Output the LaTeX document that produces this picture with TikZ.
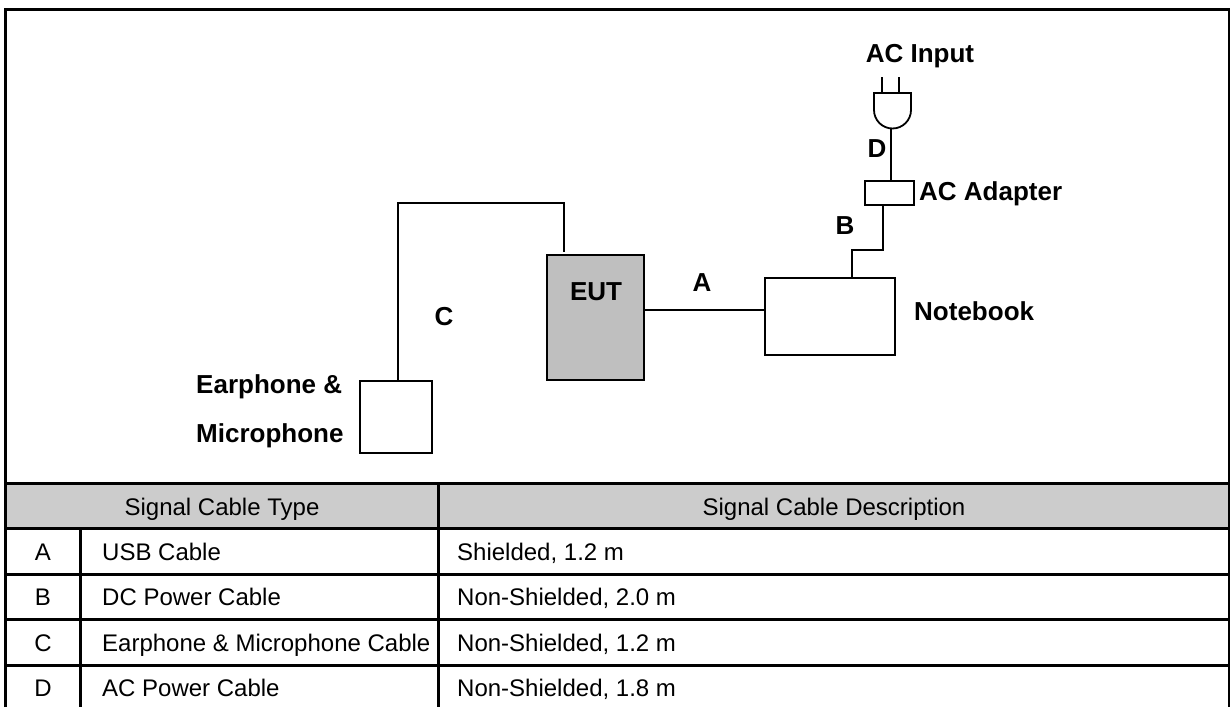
\documentclass[tikz,border=0pt]{standalone}
\usepackage{fontspec}
\setmainfont{Liberation Sans}
\usepackage{tikz}
\usetikzlibrary{positioning,calc}
\definecolor{eutgray}{rgb}{0.75,0.75,0.75}
\definecolor{headgray}{rgb}{0.8,0.8,0.8}
\tikzstyle{unit}=[%
      rectangle, draw=black, line width=1.8pt, fill=white, inner sep=0pt, outer sep=0pt
]
\tikzstyle{eut}=[%
      unit, fill=eutgray, minimum width=97pt, minimum height=125pt
]
\tikzstyle{wire}=[%
      draw=black, line width=1.8pt
]
\tikzstyle{lbl}=[%
      inner sep=0pt, anchor=base, font=\fontsize{26}{30}\selectfont\bfseries
]
\tikzstyle{cell}=[%
      inner sep=0pt, anchor=base, font=\fontsize{24}{28}\selectfont
]
\tikzstyle{rule}=[%
      draw=black, line width=3pt
]
\begin{document}
\begin{tikzpicture}[x=1pt, y=-1pt]
    \useasboundingbox (0,0) rectangle (1230,707);
    \fill[white] (0,0) rectangle (1230,707);
    \fill[headgray] (6,483) rectangle (1229,528);

    \node[eut] (eutbox) at (595.5,317.5) {};
    \node[lbl] (eutlabel) at (596,300) {EUT};
    \node[unit, minimum width=130pt, minimum height=77pt] (notebook) at (830,316.5) {};
    \node[unit, minimum width=72pt, minimum height=72pt] (earphone) at (396,417) {};
    \node[unit, minimum width=49pt, minimum height=24pt] (adapter) at (889.5,193) {};

    % plug
    \coordinate (plugtail) at (891,129);
    \coordinate (eutjack) at (564,252);
    \draw[wire] (874,93) -- (911,93) -- (911,110) arc[start angle=0, end angle=180, radius=18.5] -- cycle;
    \draw[wire] (882,77) -- (882,93);
    \draw[wire] (899,77) -- (899,93);

    % cables
    \draw[wire] (eutbox.east |- 0,310) -- (notebook.west |- 0,310);
    \draw[wire] (852,278) -- (852,250) -- (883,250) -- (883,205);
    \draw[wire] (plugtail) -- (plugtail |- adapter.north);
    \draw[wire] (398,381) -- (398,203) -- (eutjack |- 0,203) -- (eutjack);

    \node[lbl] (acinput) at (920,62) {AC Input};
    \node[lbl] (cabled) at (877,157) {D};
    \node[lbl, anchor=base west] (aclabel) at (919,200) {AC Adapter};
    \node[lbl] (cableb) at (845,234) {B};
    \node[lbl] (cablea) at (702,291) {A};
    \node[lbl, anchor=base west] (nblabel) at (914,320) {Notebook};
    \node[lbl] (cablec) at (444,325) {C};
    \node[lbl, anchor=base west] (earlabel) at (196,393) {Earphone \&};
    \node[lbl, anchor=base west] (miclabel) at (196,442) {Microphone};

    % table
    \node[cell] (headtype) at (222,515) {Signal Cable Type};
    \node[cell] (headdesc) at (834,515) {Signal Cable Description};
    \foreach \y/\k/\t/\d in {560/A/USB Cable/{Shielded, 1.2 m},
                             605/B/DC Power Cable/{Non-Shielded, 2.0 m},
                             651/C/Earphone \& Microphone Cable/{Non-Shielded, 1.2 m},
                             696/D/AC Power Cable/{Non-Shielded, 1.8 m}} {
      \node[cell] (key\k) at (43,\y) {\k};
      \node[cell, anchor=base west] (type\k) at (102,\y) {\t};
      \node[cell, anchor=base west] (desc\k) at (457,\y) {\d};
    }
    \foreach \y in {483,528,574,619,665}
      \draw[rule] (6,\y) -- (1229,\y);
    \draw[rule] (80,528) -- (80,707);
    \draw[rule] (438,483) -- (438,707);
    \draw[rule] (5.5,707) -- (5.5,9.5) -- (1229,9.5) -- (1229,707);

\end{tikzpicture}
\end{document}
